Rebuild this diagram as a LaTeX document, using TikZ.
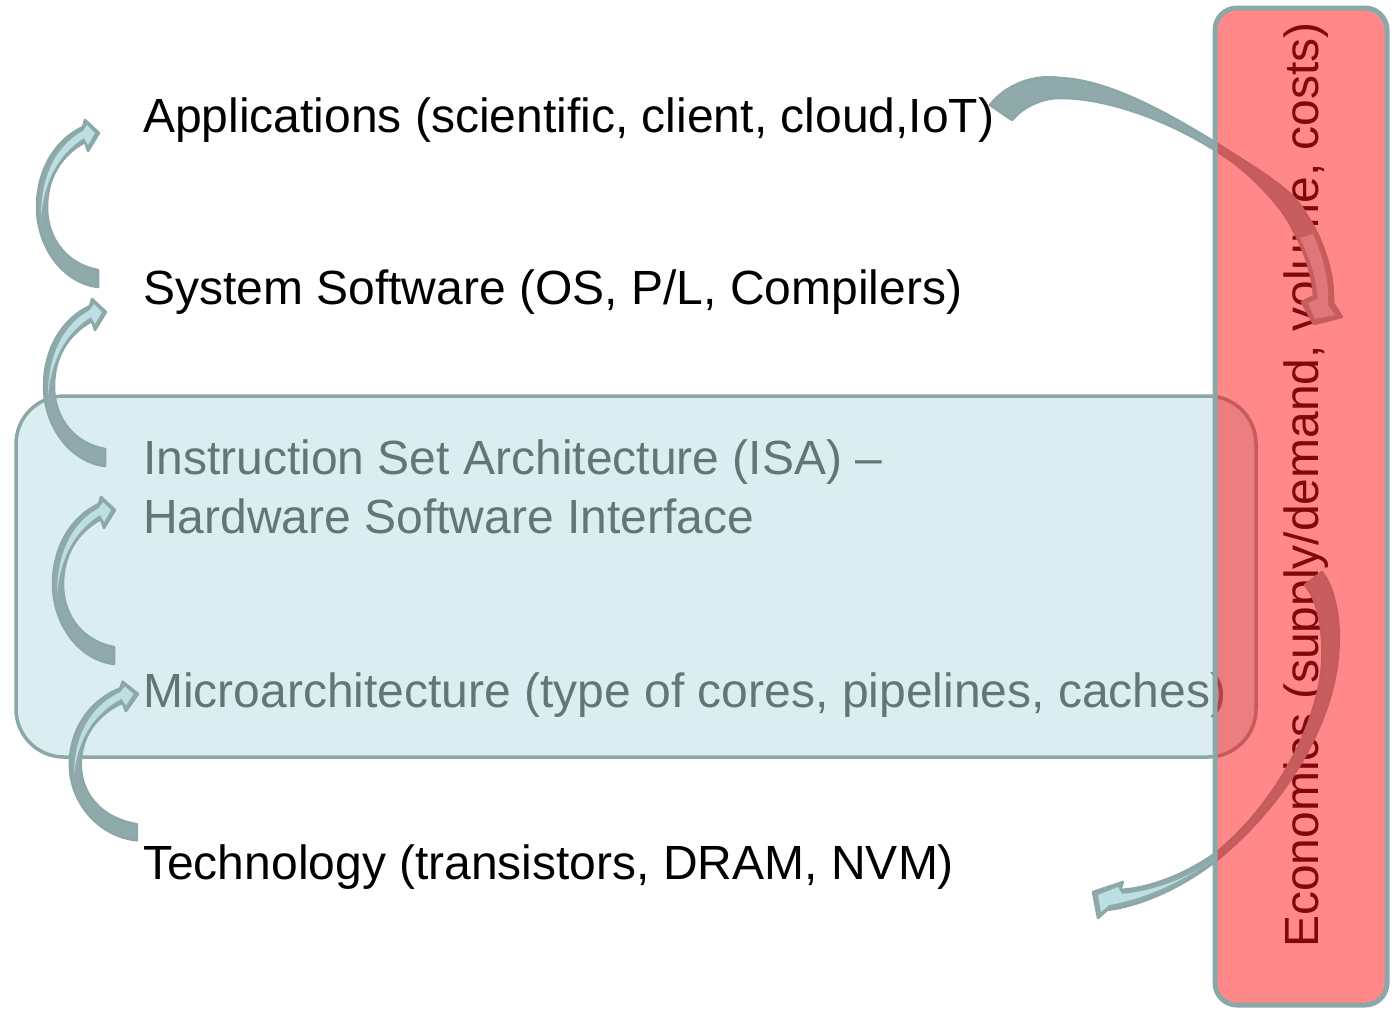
\documentclass[tikz,border=0pt]{standalone}
\usepackage{fontspec}
\setmainfont{Liberation Sans}

\definecolor{edgegray}{RGB}{139,167,168}
\definecolor{backgray}{RGB}{144,170,171}
\definecolor{litblue}{RGB}{188,223,227}
\definecolor{paleblue}{RGB}{218,237,240}
\definecolor{dimtext}{RGB}{98,118,120}
\definecolor{econred}{RGB}{255,17,17}

\tikzset{
  layer/.style={inner sep=0pt, anchor=base west, font=\fontsize{48}{58}\selectfont},
  % curved block arrow that bends to the left, tail below, head on top pointing right
  bendarrow/.pic={
    \path[fill=backgray, draw=edgegray, line width=2.5pt, line join=round]
      (0,0) -- (-11,18) -- (-14,9)
      .. controls (-38,22) and (-52,45) .. (-52,74)
      .. controls (-52,108) and (-30,132) .. (-1,137)
      -- (-1,154)
      .. controls (-35,150) and (-62,115) .. (-62,74)
      .. controls (-62,40) and (-46,8) .. (-16,-6)
      -- (-14,-13) -- cycle;
    \path[fill=litblue]
      (-4,0) -- (-12,-8) -- (-16,-2)
      .. controls (-42,12) and (-58,42) .. (-58,84)
      .. controls (-55,50) and (-42,22) .. (-15,5)
      -- (-11,12) -- cycle;
  }
}

\begin{document}
\begin{tikzpicture}[x=1pt,y=-1pt]
\useasboundingbox (0,0) rectangle (1396,1010);

% hardware/software interface band
\draw[edgegray, fill=paleblue, line width=3.5pt, rounded corners=48]
  (16,396) rectangle (1256,757);

% the layers of the stack
\node[layer] (apps) at (143,132) {Applications (scientific, client, cloud,IoT)};
\node[layer] (sys)  at (143,304) {System Software (OS, P/L, Compilers)};
\node[layer, text=dimtext] (isa) at (143,474) {Instruction Set Architecture (ISA) –};
\node[layer, text=dimtext] (hsi) at (143,533) {Hardware Software Interface};
\node[layer, text=dimtext] (uarch) at (143,707) {Microarchitecture (type of cores, pipelines, caches)};
\node[layer] (tech) at (143,879) {Technology (transistors, DRAM, NVM)};

% upward influence between neighbouring layers
\coordinate (tipA) at (99,133);
\coordinate (tipB) at (106,312);
\coordinate (tipC) at (115,510);
\coordinate (tipD) at (138,694);
\pic at (tipA) {bendarrow};
\pic at (tipB) {bendarrow};
\pic at (tipC) {bendarrow};
\pic[xscale=1.1, yscale=0.95] at (tipD) {bendarrow};

% economics label (sits under the tinted column)
\node[inner sep=0pt, anchor=base west, rotate=90, font=\fontsize{48}{58}\selectfont]
  (econ) at (1318,948) {Economics (supply/demand, volume, costs)};

% applications -> economics
\path[fill=backgray, draw=edgegray, line width=2.5pt, line join=round]
  (990,105) .. controls (1010,80) and (1040,75) .. (1060,78)
  .. controls (1110,80) and (1170,115) .. (1213,141)
  .. controls (1255,168) and (1285,185) .. (1300,205)
  .. controls (1325,240) and (1334,275) .. (1333,303)
  -- (1342,317) -- (1314,324) -- (1302,302) -- (1314,296)
  .. controls (1312,265) and (1295,225) .. (1273,200)
  .. controls (1255,180) and (1240,165) .. (1213,149)
  .. controls (1170,122) and (1110,98) .. (1060,98)
  .. controls (1040,98) and (1022,108) .. (1012,120)
  -- cycle;
\path[fill=litblue]
  (1300,238) .. controls (1310,258) and (1316,278) .. (1318,299)
  -- (1308,303) -- (1315,319) -- (1335,315) -- (1328,305)
  .. controls (1329,280) and (1323,256) .. (1313,234) -- cycle;

% economics -> technology
\path[fill=backgray, draw=edgegray, line width=2.5pt, line join=round]
  (1305,585) -- (1322,572)
  .. controls (1336,590) and (1341,625) .. (1338,655)
  .. controls (1333,720) and (1290,800) .. (1217,860)
  .. controls (1185,885) and (1145,905) .. (1107,910)
  -- (1098,918) -- (1093,892) -- (1123,882) -- (1120,890)
  .. controls (1150,888) and (1185,875) .. (1217,852)
  .. controls (1280,800) and (1318,720) .. (1322,665)
  .. controls (1324,630) and (1318,600) .. (1305,585) -- cycle;
\path[fill=litblue]
  (1212,861) .. controls (1180,882) and (1145,899) .. (1109,905)
  -- (1101,912) -- (1098,895) -- (1118,887) -- (1122,894)
  .. controls (1160,890) and (1190,876) .. (1212,861) -- cycle;

% economics column
\path[fill=econred, fill opacity=0.5, rounded corners=22]
  (1215,8) rectangle (1387,1005);
\draw[edgegray, line width=5pt, rounded corners=22]
  (1215,8) rectangle (1387,1005);
\end{tikzpicture}
\end{document}
